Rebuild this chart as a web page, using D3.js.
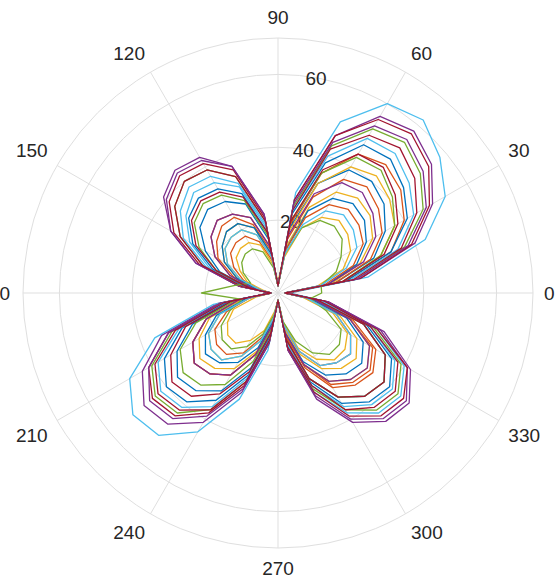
<!DOCTYPE html>
<html><head><meta charset="utf-8">
<script src="https://cdn.jsdelivr.net/npm/d3@7"></script>
<style>html,body{margin:0;padding:0;background:#fff;overflow:hidden}</style>
</head><body>
<svg id="chart" width="555" height="582"></svg>
<script>
// angles (degrees) at which every series is sampled
const angles = [0,10,20,30,40,50,60,70,80,90,100,110,120,130,140,150,160,170,180,190,200,210,220,230,240,250,260,270,280,290,300,310,320,330,340,350];
const thetaTicks = [0,30,60,90,120,150,180,210,240,270,300,330];
const rTicks = [20,40,60];
const rMax = 70;
const colors = ["#0072BD","#D95319","#EDB120","#7E2F8E","#77AC30","#4DBEEE","#A2142F"];

const s0  = [2,16,28,34,38,40,39,32,18, 2,15,26,29,30,28,23,17,8, 2,13,25,32,36,35,31,22,11, 2,13,25,33,37,38,34,25,11];
const s1  = [3,19,33,40,44,46,44,35,19, 2,13,22,25,26,24,20,14,7, 2,11,21,27,30,29,26,18,9, 2,12,21,29,32,33,30,21,10];
const s2  = [2,18,30,37,40,42,40,32,17, 3,11,19,22,22,20,17,12,6, 2,10,20,25,28,27,24,17,8, 2,11,21,28,31,32,29,21,10];
const s3  = [2,23,40,49,55,58,56,46,26, 2,22,37,42,43,40,34,24,11, 2,17,34,43,48,47,41,29,14, 2,16,30,40,45,46,41,30,14];
const s4  = [2,22,37,46,51,54,52,43,24, 2,20,34,39,40,37,31,22,10, 2,15,31,40,44,43,37,26,13, 2,15,28,37,42,43,39,28,13];
const s5  = [3,25,43,53,58,62,60,50,28, 2,18,31,35,36,33,28,20,9, 2,18,36,47,52,51,44,31,16, 2,15,29,38,43,44,40,29,13];
const s6  = [2,23,39,48,54,57,55,46,26, 2,21,36,41,42,39,33,23,11, 2,16,32,41,45,44,38,27,14, 2,16,29,39,44,45,41,29,14];
const s7  = [2,19,33,41,45,48,47,38,22, 2,17,29,33,34,32,27,19,9, 2,14,28,36,40,39,34,24,12, 2,14,26,35,39,40,36,26,12];
const s8  = [2,16,27,33,36,38,36,28,15, 2,12,20,24,24,22,19,13,6, 2,11,21,27,30,29,26,18,9, 2,12,22,30,33,34,31,22,10];
const s9  = [2,15,24,30,33,34,32,25,13, 2,10,17,20,20,19,16,11,5, 2,8,17,22,24,24,20,14,7, 2,10,18,24,27,28,25,18,8];
const s10 = [2,22,38,47,52,55,53,44,25, 2,22,37,43,44,41,34,24,11, 2,16,32,41,46,45,39,28,14, 2,16,31,41,46,47,42,31,14];
const s11 = [2,18,30,37,41,44,43,35,20, 2,16,27,31,32,30,25,18,8, 2,12,24,31,34,33,29,20,10, 2,13,25,33,37,38,34,25,11];
const s12 = [2,20,35,43,47,50,49,40,23, 2,19,32,37,38,35,30,21,10, 2,15,29,38,42,41,36,25,13, 2,14,27,36,40,41,37,27,12];
const s13 = [2,21,36,44,49,52,50,42,23, 2,20,34,39,40,37,31,22,10, 2,15,30,39,43,42,37,26,13, 2,15,27,37,41,42,38,27,13];
const s14 = [2,14,23,28,31,32,30,24,12, 2,11,19,22,22,20,17,12,6, 2,9,18,23,26,25,22,16,8, 2,11,20,26,29,30,27,20,9];
const s15 = [2,13,22,27,29,30,28,22,12, 2,9,15,18,18,17,14,10,5, 2,8,15,20,22,22,19,13,7, 2,9,17,23,25,26,23,17,8];
const s16 = [2,11,19,23,25,26,24,19,10, 2,8,14,16,16,15,12,9,4, 2,6,13,16,18,18,15,11,5, 2,8,16,21,24,24,22,16,7];
const s17 = [2,14,25,31,34,36,35,29,16, 2,13,22,25,26,24,20,14,7, 2,11,21,27,30,29,26,18,9, 2,11,21,28,31,32,29,21,10];
const s18 = [12,12,17,20,23,24,23,19,11, 2,7,12,14,14,13,11,8,12, 21,10,14,18,20,20,17,12,6, 2,8,14,19,22,22,20,14,9];
const s19 = [2,12,20,25,27,28,26,20,11, 2,10,17,20,20,19,16,11,5, 2,8,17,22,24,24,20,14,7, 2,9,17,23,25,26,23,17,8];
const s20 = [2,18,31,38,42,45,44,36,20, 2,17,28,32,33,31,26,18,8, 2,13,27,34,38,37,32,23,11, 2,13,25,33,37,38,34,25,11];
const series = [s0,s1,s2,s3,s4,s5,s6,s7,s8,s9,s10,s11,s12,s13,s14,s15,s16,s17,s18,s19,s20];

const cx = 278, cy = 293, R = 255;
const svg = d3.select("#chart");
const g = svg.append("g").attr("transform", `translate(${cx},${cy})`);
const r = d3.scaleLinear().domain([0, rMax]).range([0, R]);
const toRad = d => (90 - d) * Math.PI / 180; // d3 radial angle (clockwise from north)
const gridColor = "#dfdfdf";
const font = "Arial, 'Liberation Sans', Helvetica, sans-serif";

// rings
g.selectAll("circle.ring").data(rTicks.concat([rMax])).join("circle")
  .attr("r", d => r(d)).attr("fill", "none")
  .attr("stroke", gridColor).attr("stroke-width", 1);
// spokes
g.selectAll("line.spoke").data(thetaTicks).join("line")
  .attr("x1", 0).attr("y1", 0)
  .attr("x2", d => r(rMax) * Math.cos(d * Math.PI / 180))
  .attr("y2", d => -r(rMax) * Math.sin(d * Math.PI / 180))
  .attr("stroke", gridColor).attr("stroke-width", 1);

// r tick labels at 80 degrees
g.selectAll("text.rt").data(rTicks).join("text")
  .attr("x", d => r(d) * Math.cos(80 * Math.PI / 180))
  .attr("y", d => -r(d) * Math.sin(80 * Math.PI / 180) + 7)
  .attr("text-anchor", "middle")
  .attr("font-family", font).attr("font-size", 19).attr("fill", "#262626")
  .text(d => d);

// theta tick labels
const LR = 266;
g.selectAll("text.tt").data(thetaTicks).join("text")
  .attr("x", d => (d === 180 ? 268 : LR) * Math.cos(d * Math.PI / 180))
  .attr("y", d => {
    const y = -LR * Math.sin(d * Math.PI / 180);
    if (d === 0 || d === 180) return y + 7;
    return d < 180 ? y - 3 : y + 16;
  })
  .attr("text-anchor", d => (d === 90 || d === 270) ? "middle" : ((d < 90 || d > 270) ? "start" : "end"))
  .attr("font-family", font).attr("font-size", 19).attr("fill", "#262626")
  .text(d => d);

// data lines
const line = d3.lineRadial()
  .angle(d => toRad(d[0]))
  .radius(d => r(d[1]))
  .curve(d3.curveLinearClosed);
g.selectAll("path.s").data(series).join("path")
  .attr("d", s => line(angles.map((a, i) => [a, s[i]])))
  .attr("fill", "none")
  .attr("stroke", (s, i) => colors[i % colors.length])
  .attr("stroke-width", 1.3)
  .attr("stroke-linejoin", "round");
</script>
</body></html>
